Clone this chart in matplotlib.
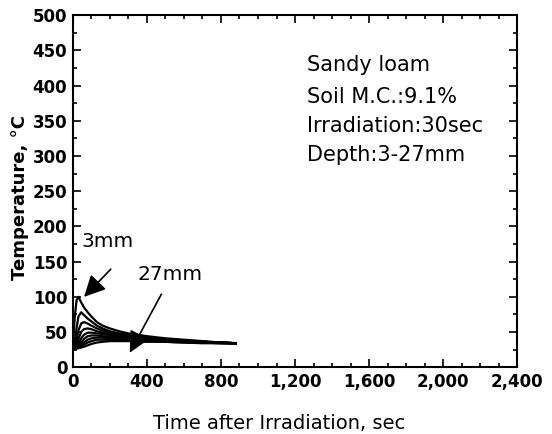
import matplotlib
matplotlib.use("Agg")
import matplotlib.pyplot as plt
from matplotlib.ticker import MultipleLocator, FuncFormatter

plt.rcParams['font.family'] = ['DejaVu Sans']

time_s = [0, 10, 20, 30, 45, 60, 80, 100, 130, 160, 200, 250, 300, 400, 500, 600, 700, 800, 880]
depths_mm = [3, 6, 9, 12, 15, 18, 21, 24, 27]
temps = {
    3:  [27, 70, 95, 100, 92, 85, 78, 72, 64, 59, 55, 51, 48, 44, 41, 39, 37, 35, 34],
    6:  [27, 35, 55, 72, 78, 74, 69, 65, 59, 55, 51, 48, 46, 42, 40, 38, 36, 35, 34],
    9:  [27, 29, 38, 52, 62, 64, 62, 59, 55, 52, 49, 46, 44, 41, 39, 37, 36, 35, 34],
    12: [27, 27, 31, 40, 50, 54, 55, 54, 51, 49, 47, 45, 43, 40, 38, 37, 36, 35, 34],
    15: [27, 27, 28, 33, 41, 46, 49, 49, 48, 47, 45, 43, 42, 39, 38, 37, 36, 35, 34],
    18: [27, 27, 27, 29, 35, 40, 44, 45, 45, 44, 43, 42, 41, 39, 37, 36, 35, 35, 34],
    21: [27, 27, 27, 28, 31, 35, 39, 41, 42, 42, 41, 40, 40, 38, 37, 36, 35, 34, 34],
    24: [27, 27, 27, 27, 29, 32, 35, 37, 39, 39, 39, 39, 38, 37, 36, 35, 35, 34, 34],
    27: [27, 27, 27, 27, 28, 29, 31, 33, 35, 36, 37, 37, 37, 36, 36, 35, 34, 34, 33],
}
info_lines = ["Sandy loam", "Soil M.C.:9.1%", "Irradiation:30sec", "Depth:3-27mm"]
info_y = [0.858, 0.768, 0.685, 0.603]

fig = plt.figure(figsize=(5.52, 4.34), dpi=100)
ax = fig.add_axes([0.132, 0.154, 0.805, 0.811])

for d in depths_mm:
    ax.plot(time_s, temps[d], color='black', lw=1.6)

ax.set_xlim(0, 2400)
ax.set_ylim(0, 500)
ax.xaxis.set_major_locator(MultipleLocator(400))
ax.xaxis.set_minor_locator(MultipleLocator(100))
ax.yaxis.set_major_locator(MultipleLocator(50))
ax.yaxis.set_minor_locator(MultipleLocator(25))
ax.xaxis.set_major_formatter(FuncFormatter(lambda v, p: f"{int(v):,}"))
ax.tick_params(which='both', direction='in', top=True, right=True, width=1.2)
ax.tick_params(which='major', length=6, labelsize=12, pad=4)
ax.tick_params(which='minor', length=3)
for lab in ax.get_xticklabels() + ax.get_yticklabels():
    lab.set_fontweight('bold')
for s in ax.spines.values():
    s.set_linewidth(1.5)

ax.set_xlabel("Time after Irradiation, sec", fontsize=14)
ax.set_ylabel("Temperature, °C", fontsize=13, fontweight='bold')
ax.xaxis.set_label_coords(0.464, -0.159)
ax.xaxis.label.set_va('center')
ax.yaxis.set_label_coords(-0.119, 0.483)
ax.yaxis.label.set_va('center')

for txt, yy in zip(info_lines, info_y):
    ax.text(0.527, yy, txt, transform=ax.transAxes,
            fontsize=15, va='center', ha='left')

ax.text(45, 178, "3mm", fontsize=14.5, va='center', ha='left')
ax.annotate("", xy=(50, 97), xytext=(215, 142),
            arrowprops=dict(arrowstyle='-|>,head_length=1.3,head_width=0.65',
                            color='black', lw=1.2))
ax.text(350, 131, "27mm", fontsize=14.5, va='center', ha='left')
ax.annotate("", xy=(300, 17), xytext=(485, 107),
            arrowprops=dict(arrowstyle='-|>,head_length=1.3,head_width=0.65',
                            color='black', lw=1.2))

fig.savefig("out.png", dpi=100)
